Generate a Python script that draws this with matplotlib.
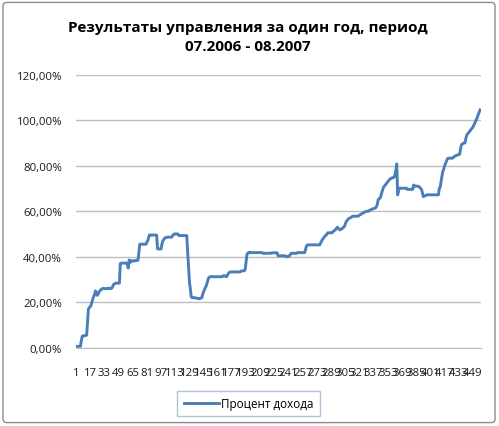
import matplotlib
matplotlib.use("Agg")
import matplotlib.pyplot as plt
from matplotlib.patches import FancyBboxPatch
from matplotlib.ticker import FuncFormatter
import numpy as np

plt.rcParams['font.family'] = ['Open Sans', 'DejaVu Sans']

title = "Результаты управления за один год, период\n07.2006 - 08.2007"
series_name = "Процент дохода"

# daily income, percent (457 points)
income = ([0.6] * 6 + [3.0, 5.0] + [5.2, 5.3, 5.3, 5.4, 5.5] + [11.0, 17.0]
          + [17.7, 18.0, 18.7] + [20.0, 21.5, 22.5, 23.5, 25.0] + [24.0, 23.0, 23.5]
          + [24.5, 25.0, 25.5, 25.7] + [26.0, 26.1, 26.0, 25.9, 26.0, 26.0, 26.1, 26.2, 26.0, 26.0, 26.1]
          + [26.5, 27.5, 28.0, 28.2] + [28.4] * 5 + [37.0] + [37.2] * 7
          + [36.5, 35.0, 38.5, 37.5, 38.2] + [38.2, 38.0, 38.1, 38.3, 38.2, 38.4, 38.3, 38.5]
          + [42.0, 45.5] + [45.5] * 7 + [46.5, 47.0, 48.5, 49.6] + [49.5] * 8
          + [43.5] + [43.4] * 4 + [45.5, 47.0, 47.5, 48.1, 48.4, 48.4] + [48.6] * 6
          + [49.3, 49.6] + [50.0] * 5 + [49.3] * 10
          + [42.0, 36.0, 29.0, 26.0, 22.5]
          + [22.0, 22.0, 22.0, 21.9, 21.9, 21.8, 21.7, 21.6, 21.5, 21.6, 21.8, 22.0]
          + [23.5, 24.5, 25.5, 26.5, 27.2, 28.5, 30.0, 30.9, 31.1, 31.2, 31.3]
          + [31.2] * 12 + [31.5, 31.7, 31.5, 31.3, 31.2]
          + [32.0, 32.6, 33.1] + [33.3] * 12 + [33.6, 33.7, 33.8, 33.8, 33.8]
          + [34.5, 38.0, 41.2, 41.6, 41.8, 42.0]
          + [41.8] * 14 + [41.5] * 10 + [41.7] * 7
          + [40.4] * 9 + [40.0] * 3 + [40.3, 40.4]
          + [41.0] + [41.5] * 7 + [41.8] * 9 + [43.0, 44.6] + [45.2] * 15
          + [46.0, 46.8, 47.5, 48.0, 48.5, 49.0, 49.5, 49.7] + [50.5] * 6
          + [51.0, 51.3, 51.6, 52.0, 52.5, 53.0, 52.5, 52.0, 51.8]
          + [52.0, 52.3, 52.6, 53.0, 53.3]
          + [54.5, 55.5, 56.0, 56.4, 56.8, 57.0, 57.2, 57.4] + [57.8] * 7
          + [58.0, 58.3, 58.5, 58.8, 59.0, 59.2] + [59.4, 59.6, 59.8, 60.0, 60.0, 60.0]
          + [60.3, 60.5, 60.7, 60.9, 61.0] + [61.2, 61.3, 61.4]
          + [62.0, 63.0, 65.0, 65.5, 65.7, 66.5, 68.0, 69.3, 70.5, 71.0]
          + [71.5, 72.0, 72.5, 73.0, 73.5, 74.0, 74.3, 74.5, 74.7, 74.7, 75.0]
          + [76.0, 78.0, 80.8, 67.2, 69.0, 70.1] + [70.1] * 8 + [69.6] * 7
          + [71.5, 71.2, 71.0, 71.0, 71.0, 71.0, 70.8, 70.5]
          + [70.0, 69.5, 68.0, 66.4, 66.6, 66.8, 67.0] + [67.2] * 14
          + [70.1, 70.5, 73.0, 75.5, 77.5, 78.5, 80.0, 81.0, 82.0, 82.9] + [83.3] * 6
          + [83.7, 84.0, 84.3, 84.5, 84.6, 84.8, 85.0, 85.0]
          + [87.5, 89.2, 89.5, 89.8, 90.0, 90.0, 92.0, 93.5, 94.0, 94.5, 95.0]
          + [95.5, 96.0, 96.5, 97.0, 97.8, 98.5, 99.5, 100.5, 101.3, 102.5, 103.5, 104.5])
income = np.array(income)
days = np.arange(len(income))

y_ticks = [0, 20, 40, 60, 80, 100, 120]
x_tick_step = 16

fig = plt.figure(figsize=(4.99, 4.27), dpi=100)

# chart area border
border = FancyBboxPatch((0.006, 0.008), 0.986, 0.984, boxstyle="round,pad=0,rounding_size=0.008",
                        transform=fig.transFigure, facecolor='white', edgecolor='#8c8c8c',
                        linewidth=1.0, zorder=-10)
fig.patches.append(border)

ax = fig.add_axes([76 / 499, 1 - 348.7 / 427, 404.5 / 499, 273 / 427])
ax.set_facecolor('none')
ax.plot(days, income, color='#4a7ebb', linewidth=2.1, label=series_name, solid_joinstyle='round')

ax.set_ylim(0, 120)
ax.set_xlim(0, len(income) - 0.5)
ax.set_yticks(y_ticks)
ax.yaxis.set_major_formatter(FuncFormatter(lambda v, p: ("%.2f%%" % v).replace('.', ',')))
ax.grid(axis='y', color='#bebebe', linewidth=1.0)
ax.set_axisbelow(True)

xt = days[::x_tick_step]
ax.set_xticks(xt)
ax.set_xticklabels([str(i + 1) for i in xt])

for s in ['top', 'right', 'left']:
    ax.spines[s].set_visible(False)
ax.spines['bottom'].set_color('#bebebe')
ax.tick_params(axis='both', length=0, labelsize=8.2, colors='#1a1a1a')
ax.tick_params(axis='y', pad=10)
ax.tick_params(axis='x', pad=14)

fig.text(0.497, 1 - 37.5 / 427, title, ha='center', va='center', fontsize=11, fontweight='bold',
         linespacing=1.45)

leg = fig.legend(loc='center', bbox_to_anchor=(248.5 / 499, 1 - 404.5 / 427), fontsize=8.4,
                 frameon=True, fancybox=False, handlelength=3.0, handletextpad=0.15,
                 borderpad=0.55, borderaxespad=0)
leg.get_frame().set_edgecolor('#9fb5d5')
leg.get_frame().set_linewidth(1.0)

fig.savefig('out.png', dpi=100)
